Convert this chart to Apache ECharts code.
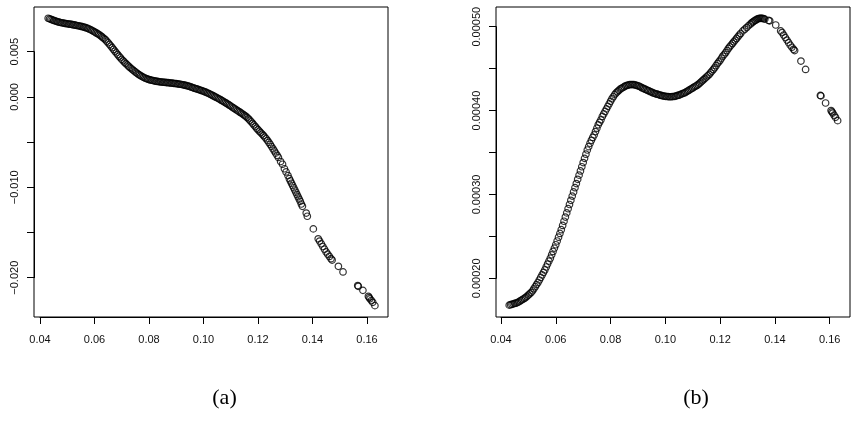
<!DOCTYPE html>
<html>
<head>
<meta charset="utf-8">
<script src="https://cdn.jsdelivr.net/npm/echarts@6/dist/echarts.min.js"></script>
<style>
  html, body { margin: 0; padding: 0; background: #fff; }
  #chart { width: 866px; height: 422px; }
</style>
</head>
<body>
<div id="chart"></div>
<script>
// x values, shared by both panels
const xs = [
  0.0430, 0.0435, 0.0440, 0.0445, 0.0450, 0.0455, 0.0460, 0.0465, 0.0470, 0.0475,
  0.0480, 0.0485, 0.0490, 0.0495, 0.0500, 0.0505, 0.0510, 0.0515, 0.0520, 0.0525,
  0.0530, 0.0535, 0.0540, 0.0545, 0.0550, 0.0555, 0.0560, 0.0565, 0.0570, 0.0575,
  0.0580, 0.0585, 0.0590, 0.0595, 0.0600, 0.0605, 0.0610, 0.0615, 0.0620, 0.0625,
  0.0630, 0.0635, 0.0640, 0.0645, 0.0650, 0.0655, 0.0660, 0.0665, 0.0670, 0.0675,
  0.0680, 0.0685, 0.0690, 0.0695, 0.0700, 0.0705, 0.0710, 0.0715, 0.0720, 0.0725,
  0.0730, 0.0735, 0.0740, 0.0745, 0.0750, 0.0755, 0.0760, 0.0765, 0.0770, 0.0775,
  0.0780, 0.0785, 0.0790, 0.0795, 0.0800, 0.0805, 0.0810, 0.0815, 0.0820, 0.0825,
  0.0830, 0.0835, 0.0840, 0.0845, 0.0850, 0.0855, 0.0860, 0.0865, 0.0870, 0.0875,
  0.0880, 0.0885, 0.0890, 0.0895, 0.0900, 0.0905, 0.0910, 0.0915, 0.0920, 0.0925,
  0.0930, 0.0935, 0.0940, 0.0945, 0.0950, 0.0955, 0.0960, 0.0965, 0.0970, 0.0975,
  0.0980, 0.0985, 0.0990, 0.0995, 0.1000, 0.1005, 0.1010, 0.1015, 0.1020, 0.1025,
  0.1030, 0.1035, 0.1040, 0.1045, 0.1050, 0.1055, 0.1060, 0.1065, 0.1070, 0.1075,
  0.1080, 0.1085, 0.1090, 0.1095, 0.1100, 0.1105, 0.1110, 0.1115, 0.1120, 0.1125,
  0.1130, 0.1135, 0.1140, 0.1145, 0.1150, 0.1155, 0.1160, 0.1165, 0.1170, 0.1175,
  0.1180, 0.1185, 0.1190, 0.1195, 0.1200, 0.1205, 0.1210, 0.1215, 0.1220, 0.1225,
  0.1230, 0.1235, 0.1240, 0.1245, 0.1250, 0.1255, 0.1260, 0.1265, 0.1270, 0.1275,
  // sparse tail
  0.1283, 0.1290, 0.1297, 0.1303, 0.1310, 0.1315, 0.1319, 0.1323, 0.1327, 0.1331,
  0.1335, 0.1339, 0.1343, 0.1347, 0.1351, 0.1355, 0.1359, 0.1363, 0.1377, 0.1381,
  0.1403, 0.1421, 0.1426, 0.1432, 0.1438, 0.1444, 0.1450, 0.1456, 0.1462, 0.1468,
  0.1472, 0.1495, 0.1512, 0.1566, 0.1568, 0.1585, 0.1605, 0.1608, 0.1611, 0.1616,
  0.1621, 0.1629
]

// panel (a)
const yA = [
  8.70e-3, 8.64e-3, 8.58e-3, 8.52e-3, 8.46e-3, 8.41e-3, 8.36e-3, 8.31e-3, 8.27e-3, 8.23e-3,
  8.20e-3, 8.17e-3, 8.14e-3, 8.11e-3, 8.09e-3, 8.06e-3, 8.04e-3, 8.02e-3, 7.99e-3, 7.96e-3,
  7.93e-3, 7.90e-3, 7.87e-3, 7.84e-3, 7.81e-3, 7.77e-3, 7.73e-3, 7.68e-3, 7.63e-3, 7.58e-3,
  7.51e-3, 7.44e-3, 7.36e-3, 7.28e-3, 7.19e-3, 7.10e-3, 7.02e-3, 6.92e-3, 6.81e-3, 6.70e-3,
  6.58e-3, 6.45e-3, 6.33e-3, 6.16e-3, 5.99e-3, 5.81e-3, 5.63e-3, 5.44e-3, 5.25e-3, 5.06e-3,
  4.87e-3, 4.68e-3, 4.50e-3, 4.33e-3, 4.15e-3, 3.99e-3, 3.84e-3, 3.69e-3, 3.54e-3, 3.40e-3,
  3.26e-3, 3.13e-3, 3.00e-3, 2.88e-3, 2.76e-3, 2.64e-3, 2.53e-3, 2.43e-3, 2.33e-3, 2.24e-3,
  2.16e-3, 2.09e-3, 2.03e-3, 1.97e-3, 1.92e-3, 1.88e-3, 1.84e-3, 1.80e-3, 1.77e-3, 1.74e-3,
  1.71e-3, 1.69e-3, 1.67e-3, 1.65e-3, 1.63e-3, 1.62e-3, 1.60e-3, 1.59e-3, 1.57e-3, 1.56e-3,
  1.54e-3, 1.52e-3, 1.50e-3, 1.48e-3, 1.46e-3, 1.44e-3, 1.42e-3, 1.40e-3, 1.37e-3, 1.34e-3,
  1.31e-3, 1.27e-3, 1.23e-3, 1.19e-3, 1.14e-3, 1.08e-3, 1.03e-3, 0.98e-3, 0.93e-3, 0.88e-3,
  0.83e-3, 0.78e-3, 0.73e-3, 0.68e-3, 0.62e-3, 0.56e-3, 0.50e-3, 0.43e-3, 0.36e-3, 0.29e-3,
  0.21e-3, 0.13e-3, 0.05e-3, -0.03e-3, -0.11e-3, -0.19e-3, -0.27e-3, -0.36e-3, -0.45e-3, -0.54e-3,
  -0.63e-3, -0.72e-3, -0.82e-3, -0.92e-3, -1.02e-3, -1.12e-3, -1.22e-3, -1.32e-3, -1.42e-3, -1.52e-3,
  -1.62e-3, -1.72e-3, -1.82e-3, -1.93e-3, -2.04e-3, -2.15e-3, -2.27e-3, -2.42e-3, -2.58e-3, -2.75e-3,
  -2.92e-3, -3.10e-3, -3.28e-3, -3.46e-3, -3.63e-3, -3.79e-3, -3.95e-3, -4.11e-3, -4.28e-3, -4.45e-3,
  -4.63e-3, -4.83e-3, -5.04e-3, -5.26e-3, -5.50e-3, -5.74e-3, -5.98e-3, -6.22e-3, -6.46e-3, -6.70e-3,
  -7.15e-3, -7.45e-3, -7.95e-3, -8.30e-3, -8.70e-3, -9.05e-3, -9.30e-3, -9.55e-3, -9.80e-3, -10.05e-3,
  -10.30e-3, -10.55e-3, -10.80e-3, -11.05e-3, -11.30e-3, -11.55e-3, -11.85e-3, -12.10e-3, -12.85e-3, -13.20e-3,
  -14.60e-3, -15.70e-3, -15.95e-3, -16.25e-3, -16.55e-3, -16.85e-3, -17.15e-3, -17.40e-3, -17.65e-3, -17.90e-3,
  -18.05e-3, -18.74e-3, -19.36e-3, -20.87e-3, -20.95e-3, -21.40e-3, -22.06e-3, -22.20e-3, -22.34e-3, -22.52e-3,
  -22.72e-3, -23.09e-3
]

// panel (b)
const yB = [
  1.68e-4, 1.685e-4, 1.69e-4, 1.695e-4, 1.70e-4, 1.705e-4, 1.71e-4, 1.72e-4, 1.73e-4, 1.74e-4,
  1.75e-4, 1.76e-4, 1.77e-4, 1.785e-4, 1.80e-4, 1.815e-4, 1.83e-4, 1.85e-4, 1.875e-4, 1.90e-4,
  1.925e-4, 1.95e-4, 1.98e-4, 2.01e-4, 2.04e-4, 2.07e-4, 2.10e-4, 2.135e-4, 2.17e-4, 2.205e-4,
  2.24e-4, 2.28e-4, 2.32e-4, 2.36e-4, 2.40e-4, 2.445e-4, 2.49e-4, 2.535e-4, 2.58e-4, 2.63e-4,
  2.68e-4, 2.73e-4, 2.78e-4, 2.83e-4, 2.88e-4, 2.93e-4, 2.98e-4, 3.03e-4, 3.08e-4, 3.13e-4,
  3.18e-4, 3.23e-4, 3.28e-4, 3.33e-4, 3.38e-4, 3.43e-4, 3.48e-4, 3.53e-4, 3.57e-4, 3.61e-4,
  3.645e-4, 3.68e-4, 3.71e-4, 3.75e-4, 3.79e-4, 3.83e-4, 3.86e-4, 3.89e-4, 3.93e-4, 3.96e-4,
  3.99e-4, 4.02e-4, 4.05e-4, 4.08e-4, 4.11e-4, 4.14e-4, 4.165e-4, 4.19e-4, 4.21e-4, 4.225e-4,
  4.24e-4, 4.255e-4, 4.265e-4, 4.275e-4, 4.285e-4, 4.295e-4, 4.30e-4, 4.305e-4, 4.31e-4, 4.31e-4,
  4.31e-4, 4.31e-4, 4.305e-4, 4.30e-4, 4.295e-4, 4.29e-4, 4.28e-4, 4.27e-4, 4.265e-4, 4.255e-4,
  4.25e-4, 4.24e-4, 4.235e-4, 4.225e-4, 4.22e-4, 4.21e-4, 4.205e-4, 4.20e-4, 4.195e-4, 4.19e-4,
  4.185e-4, 4.18e-4, 4.175e-4, 4.172e-4, 4.17e-4, 4.168e-4, 4.166e-4, 4.165e-4, 4.165e-4, 4.166e-4,
  4.168e-4, 4.17e-4, 4.175e-4, 4.18e-4, 4.185e-4, 4.19e-4, 4.20e-4, 4.205e-4, 4.21e-4, 4.22e-4,
  4.23e-4, 4.24e-4, 4.25e-4, 4.26e-4, 4.27e-4, 4.28e-4, 4.29e-4, 4.30e-4, 4.31e-4, 4.325e-4,
  4.34e-4, 4.355e-4, 4.37e-4, 4.385e-4, 4.40e-4, 4.415e-4, 4.43e-4, 4.45e-4, 4.47e-4, 4.49e-4,
  4.51e-4, 4.535e-4, 4.56e-4, 4.58e-4, 4.60e-4, 4.625e-4, 4.65e-4, 4.67e-4, 4.69e-4, 4.715e-4,
  4.74e-4, 4.76e-4, 4.78e-4, 4.80e-4, 4.82e-4, 4.84e-4, 4.86e-4, 4.88e-4, 4.90e-4, 4.92e-4,
  4.95e-4, 4.97e-4, 4.99e-4, 5.01e-4, 5.03e-4, 5.045e-4, 5.055e-4, 5.065e-4, 5.075e-4, 5.08e-4,
  5.09e-4, 5.095e-4, 5.10e-4, 5.10e-4, 5.10e-4, 5.10e-4, 5.095e-4, 5.09e-4, 5.075e-4, 5.07e-4,
  5.02e-4, 4.95e-4, 4.93e-4, 4.90e-4, 4.87e-4, 4.84e-4, 4.81e-4, 4.78e-4, 4.755e-4, 4.73e-4,
  4.715e-4, 4.59e-4, 4.49e-4, 4.18e-4, 4.175e-4, 4.09e-4, 4.00e-4, 3.985e-4, 3.97e-4, 3.945e-4,
  3.92e-4, 3.88e-4
]

// tick labels (blank = tick without label, as R drops the crowded ones)
const xTicks = [0.04, 0.06, 0.08, 0.10, 0.12, 0.14, 0.16]
const yTicksA = [-0.020, -0.015, -0.010, -0.005, 0.000, 0.005]
const yLabelsA = ['\u22120.020', '', '\u22120.010', '', '0.000', '0.005']
const yTicksB = [0.00020, 0.00025, 0.00030, 0.00035, 0.00040, 0.00045, 0.00050]
const yLabelsB = ['0.00020', '', '0.00030', '', '0.00040', '', '0.00050']
const captions = ['(a)', '(b)']

// layout in px: plot box, and where the first/last ticks sit
const panels = [
  { box: [34, 7, 388, 317], xPx: [40, 367], yPx: [277.7, 51.7], yTicks: yTicksA, yLabels: yLabelsA, ys: yA, yDec: 3, cap: 224.5 },
  { box: [496, 7, 850, 317], xPx: [501, 829.7], yPx: [278.3, 26.7], yTicks: yTicksB, yLabels: yLabelsB, ys: yB, yDec: 5, cap: 696 }
]

const labelFont = { fontFamily: 'Liberation Sans', fontSize: 11, color: '#111' }
const black = { color: '#000', width: 1 }

const option = { animation: false, grid: [], xAxis: [], yAxis: [], series: [], title: [] }

panels.forEach((p, k) => {
  const [l, t, r, b] = p.box
  const x0 = xTicks[0], x1 = xTicks[xTicks.length - 1]
  const y0 = p.yTicks[0], y1 = p.yTicks[p.yTicks.length - 1]
  const sx = (x1 - x0) / (p.xPx[1] - p.xPx[0])
  const sy = (y1 - y0) / (p.yPx[0] - p.yPx[1])

  // data grid = the plot box
  option.grid.push({ left: l, top: t, width: r - l, height: b - t, show: true, borderColor: '#000', borderWidth: 1 })
  const gi = option.grid.length - 1
  option.xAxis.push({
    type: 'value', gridIndex: gi, show: false,
    min: x0 - (p.xPx[0] - l) * sx, max: x1 + (r - p.xPx[1]) * sx
  })
  option.yAxis.push({
    type: 'value', gridIndex: gi, show: false,
    min: y0 - (b - p.yPx[0]) * sy, max: y1 + (p.yPx[1] - t) * sy
  })
  option.series.push({
    type: 'scatter', xAxisIndex: gi, yAxisIndex: gi,
    symbol: 'circle', symbolSize: 6.5,
    itemStyle: { color: 'rgba(0,0,0,0)', borderColor: '#000', borderWidth: 1.2 },
    data: xs.map((x, i) => [x, p.ys[i]]),
    silent: true
  })

  // axis grid spanning only the tick range, pushed out to the box edges
  option.grid.push({ left: p.xPx[0], top: p.yPx[1], width: p.xPx[1] - p.xPx[0], height: p.yPx[0] - p.yPx[1] })
  const ai = option.grid.length - 1
  const yLabelMap = {}
  p.yTicks.forEach((v, i) => { yLabelMap[v.toFixed(p.yDec)] = p.yLabels[i] })
  option.xAxis.push({
    type: 'value', gridIndex: ai, position: 'bottom', offset: b - p.yPx[0],
    min: x0, max: x1, interval: xTicks[1] - xTicks[0],
    splitLine: { show: false },
    axisLine: { show: true, onZero: false, lineStyle: black },
    axisTick: { show: true, inside: false, length: 7, lineStyle: black },
    axisLabel: { ...labelFont, margin: 17, formatter: v => v.toFixed(2) }
  })
  option.yAxis.push({
    type: 'value', gridIndex: ai, position: 'left', offset: p.xPx[0] - l,
    min: y0, max: y1, interval: p.yTicks[1] - p.yTicks[0],
    splitLine: { show: false },
    axisLine: { show: true, onZero: false, lineStyle: black },
    axisTick: { show: true, inside: false, length: 7, lineStyle: black },
    axisLabel: { ...labelFont, margin: 14, rotate: 90, formatter: v => yLabelMap[v.toFixed(p.yDec)] || '' }
  })

  option.title.push({
    text: captions[k], left: p.cap, top: 387, textAlign: 'center', padding: 0,
    textStyle: { fontFamily: 'Liberation Serif', fontSize: 22, fontWeight: 'normal', color: '#000' }
  })
})

const chart = echarts.init(document.getElementById('chart'))
chart.setOption(option)
</script>
</body>
</html>
